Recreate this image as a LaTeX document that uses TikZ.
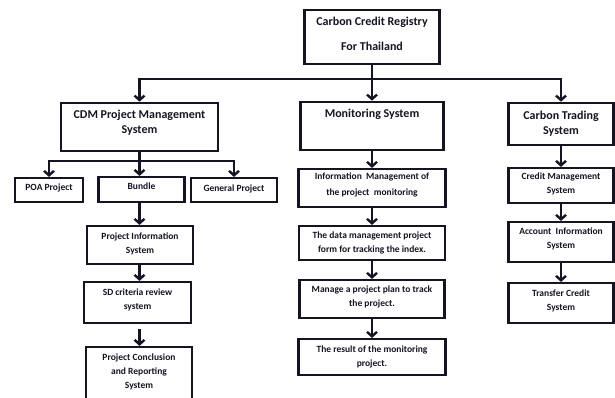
\documentclass[tikz,border=0pt]{standalone}
\usepackage{fontspec}
\setmainfont{Carlito}
\usetikzlibrary{arrows.meta}
\definecolor{ink}{RGB}{20,20,35}
\newcommand\tbx[4]{\parbox[c][#2][t]{#1}{\centering\vspace*{#3}#4\par}}
\begin{document}
\begin{tikzpicture}[x=1pt,y=-1pt,
  hdr/.style={draw=ink, line width=2.6pt, inner sep=0pt, text=ink, font=\fontsize{12}{15.5}\selectfont\bfseries},
  sub/.style={draw=ink, line width=2.1pt, inner sep=0pt, text=ink, font=\fontsize{9.5}{13.5}\selectfont\bfseries},
  conn/.style={draw=ink, line width=2.4pt},
  arr/.style={conn, -{Straight Barb[length=4.5pt,width=10pt]}}]
\useasboundingbox (0,0) rectangle (615,398);
\clip (0,0) rectangle (615,398);

% level 0
\node[hdr, font=\fontsize{12}{25}\selectfont\bfseries] (top) at (372,37) {\tbx{135pt}{54pt}{6.8pt}{Carbon Credit Registry\\For Thailand}};

% level 1
\node[hdr] (cdm) at (139.5,127) {\tbx{157pt}{48pt}{6.8pt}{CDM Project Management\\System}};
\node[hdr] (mon) at (372,126) {\tbx{143pt}{48pt}{6.8pt}{Monitoring System}};
\node[hdr] (trade) at (561,124) {\tbx{105pt}{42pt}{7.8pt}{Carbon Trading\\System}};

% left column
\node[sub] (poa) at (49,190) {\tbx{68pt}{24pt}{6.1pt}{POA Project}};
\node[sub] (bun) at (141.5,189.5) {\tbx{86pt}{25pt}{6.1pt}{Bundle}};
\node[sub] (gen) at (234,190) {\tbx{86pt}{24pt}{7pt}{General Project}};
\node[sub] (pis) at (140,245) {\tbx{106pt}{38pt}{7.1pt}{Project Information\\System}};
\node[sub] (sd) at (137.5,302.5) {\tbx{107pt}{41pt}{7.1pt}{SD criteria review\\system}};
\node[sub, font=\fontsize{9.5}{14}\selectfont\bfseries] (pc) at (139,376) {\tbx{106pt}{58pt}{7.1pt}{Project Conclusion\\and Reporting\\System}};

% middle column
\node[sub, font=\fontsize{9.5}{16}\selectfont\bfseries] (info) at (372,188) {\tbx{147pt}{38pt}{4.1pt}{Information\ \ Management of\\the project\ \ monitoring}};
\node[sub] (data) at (372,243) {\tbx{146pt}{34pt}{6.1pt}{The data management project\\form for tracking the index.}};
\node[sub] (manage) at (372,299) {\tbx{145pt}{38pt}{6.1pt}{Manage a project plan to track\\the project.}};
\node[sub] (result) at (372,357) {\tbx{147pt}{36pt}{7.1pt}{The result of the monitoring\\project.}};

% right column
\node[sub] (credit) at (561,185.5) {\tbx{105pt}{35pt}{5.1pt}{Credit Management\\System}};
\node[sub] (account) at (561,242) {\tbx{105pt}{40pt}{6.1pt}{Account\ \ Information\\System}};
\node[sub] (transfer) at (561,303) {\tbx{105pt}{40pt}{7.1pt}{Transfer Credit\\System}};

% top bus
\coordinate (bus) at (372,79);
\draw[conn] (top.south) -- (bus);
\draw[arr] (bus) -| (cdm.north);
\draw[arr] (bus) -| (trade.north);
\draw[arr] (bus) -- (mon.north);

% CDM sub bus
\coordinate (sb) at (139.5,161);
\draw[conn] (cdm.south) -- (sb);
\draw[arr] (sb) -| (poa.north);
\draw[arr] (sb) -| (gen.north);
\draw[arr] (sb) -- (sb |- bun.north);
\draw[arr] (sb |- bun.south) -- (sb |- pis.north);
\draw[arr] (sb |- pis.south) -- (sb |- sd.north);
\coordinate (sdb) at ([yshift=-5pt]sd.south);
\draw[arr] (sb |- sdb) -- (sb |- pc.north);

% monitoring column
\draw[arr] (mon.south) -- (info.north);
\draw[arr] (info.south) -- (data.north);
\draw[arr] (data.south) -- (manage.north);
\draw[arr] (manage.south) -- (result.north);

% trading column
\draw[arr] (trade.south) -- (credit.north);
\draw[arr] (credit.south) -- (account.north);
\draw[arr] (account.south) -- (transfer.north);
\end{tikzpicture}
\end{document}
